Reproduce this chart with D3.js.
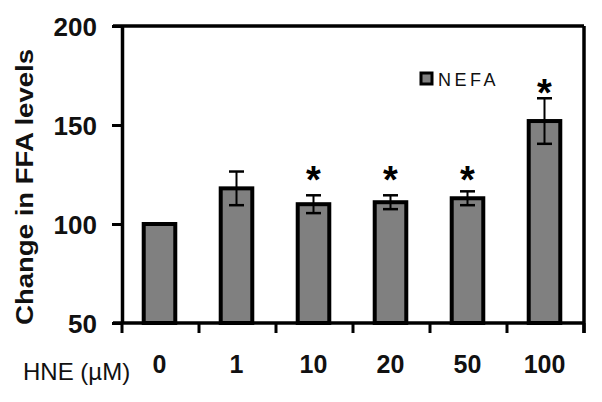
<!DOCTYPE html>
<html>
<head>
<meta charset="utf-8">
<script src="https://cdn.jsdelivr.net/npm/d3@7"></script>
<style>
  body { margin: 0; background: #fff; }
  text { font-family: "Liberation Sans", Arial, sans-serif; }
</style>
</head>
<body>
<div class="chart"></div>
<script>
// data
const doses = ["0", "1", "10", "20", "50", "100"];
const nefa = [100, 118, 110, 111, 113, 152];
const nefaErr = [0, 8.5, 4.5, 3.5, 3.5, 11.5];
// asterisk height (in y units), null = no mark
const starLevel = [null, null, 127, 127, 127, 170.5];
const yTicks = [50, 100, 150, 200];

const width = 602, height = 402;
const margin = {top: 26, left: 122, right: 18, bottom: 79};

const svg = d3.select(".chart").append("svg")
    .attr("width", width)
    .attr("height", height);

const x = d3.scaleBand()
    .domain(doses)
    .range([margin.left, width - margin.right])
    .padding(0);

const y = d3.scaleLinear()
    .domain([50, 200])
    .range([height - margin.bottom, margin.top]);

const x0 = x.range()[0], x1 = x.range()[1];
const yBase = y(50), yTop = y(200);

// bars
const barW = x.bandwidth() * 0.41;
svg.append("g").selectAll("rect")
    .data(nefa)
    .join("rect")
    .attr("x", (d, i) => x(doses[i]) + x.bandwidth() / 2 - barW / 2 - 1)
    .attr("y", d => y(d))
    .attr("width", barW)
    .attr("height", d => yBase - y(d))
    .attr("fill", "#808080")
    .attr("stroke", "#000")
    .attr("stroke-width", 4);

// error bars
const eb = svg.append("g").attr("stroke", "#000");
nefa.forEach((v, i) => {
    if (!nefaErr[i]) return;
    const cx = x(doses[i]) + x.bandwidth() / 2 - 1;
    eb.append("line")
        .attr("x1", cx).attr("x2", cx)
        .attr("y1", y(v + nefaErr[i])).attr("y2", y(v - nefaErr[i]))
        .attr("stroke-width", 2);
    [v + nefaErr[i], v - nefaErr[i]].forEach(e => {
        eb.append("line")
            .attr("x1", cx - 7.5).attr("x2", cx + 7.5)
            .attr("y1", y(e)).attr("y2", y(e))
            .attr("stroke-width", 2.5);
    });
});

// significance marks
svg.append("g").selectAll("text")
    .data(starLevel.map((s, i) => ({s, i})).filter(d => d.s != null))
    .join("text")
    .attr("x", d => x(doses[d.i]) + x.bandwidth() / 2 - 1)
    .attr("y", d => y(d.s) + 22)
    .attr("text-anchor", "middle")
    .attr("font-size", 38)
    .attr("font-weight", "bold")
    .text("*");

// y axis
const yAxis = svg.append("g")
    .attr("transform", `translate(${x0},0)`)
    .call(d3.axisLeft(y).tickValues(yTicks).tickSize(10).tickSizeOuter(0).tickPadding(15));
yAxis.select(".domain").attr("stroke-width", 3.5);
yAxis.selectAll(".tick line").attr("stroke-width", 3);
yAxis.selectAll(".tick text")
    .attr("font-size", 26)
    .attr("font-weight", "bold")
    .attr("fill", "#111")
    .attr("dy", "0.38em")
    .attr("font-family", "'Liberation Sans', Arial, sans-serif");

// x axis baseline + boundary ticks
const frame = svg.append("g").attr("stroke", "#000").attr("stroke-width", 3.5);
frame.append("line").attr("x1", x0 - 9).attr("x2", x1).attr("y1", yBase).attr("y2", yBase);
const bounds = doses.map(d => x(d)).concat([x1]);
frame.selectAll(".bt")
    .data(bounds)
    .join("line")
    .attr("class", "bt")
    .attr("x1", d => d).attr("x2", d => d)
    .attr("y1", yBase).attr("y2", yBase + 10)
    .attr("stroke-width", 3);

// top and right frame
frame.append("line").attr("x1", x0 - 9).attr("x2", x1).attr("y1", yTop).attr("y2", yTop);
frame.append("line").attr("x1", x1).attr("x2", x1).attr("y1", yTop).attr("y2", yBase + 10);

// category labels
svg.append("g").selectAll("text")
    .data(doses)
    .join("text")
    .attr("x", d => x(d) + x.bandwidth() / 2 - 1)
    .attr("y", yBase + 50)
    .attr("text-anchor", "middle")
    .attr("font-size", 25)
    .attr("font-weight", "bold")
    .attr("fill", "#111")
    .text(d => d);

svg.append("text")
    .attr("x", 23)
    .attr("y", 380)
    .attr("font-size", 24)
    .attr("fill", "#111")
    .text("HNE (\u00b5M)");

// y label
svg.append("text")
    .attr("transform", "translate(33,187) rotate(-90)")
    .attr("text-anchor", "middle")
    .attr("font-size", 24)
    .attr("font-weight", "bold")
    .attr("fill", "#111")
    .attr("textLength", 276)
    .attr("lengthAdjust", "spacingAndGlyphs")
    .text("Change in FFA levels");

// legend
const legend = svg.append("g").attr("transform", "translate(421,73)");
legend.append("rect")
    .attr("width", 11).attr("height", 11)
    .attr("fill", "#808080")
    .attr("stroke", "#000")
    .attr("stroke-width", 3);
legend.append("text")
    .attr("x", 17)
    .attr("y", 13)
    .attr("font-size", 18)
    .attr("letter-spacing", 3.5)
    .attr("fill", "#111")
    .text("NEFA");
</script>
</body>
</html>
